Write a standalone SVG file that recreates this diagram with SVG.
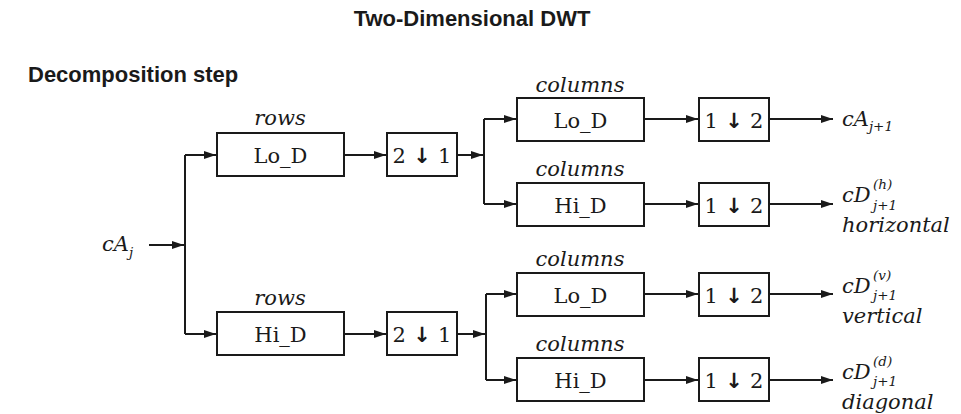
<svg xmlns="http://www.w3.org/2000/svg" width="961" height="414" viewBox="0 0 961 414">
<defs>
<marker id="ah" markerWidth="12" markerHeight="8" refX="12" refY="4" orient="auto" markerUnits="userSpaceOnUse">
<path d="M0,0 L12,4 L0,8 Z" fill="#1a1a1a"/>
</marker>
<style>
.box{fill:#fff;stroke:#1a1a1a;stroke-width:2}
.ln{fill:none;stroke:#1a1a1a;stroke-width:2}
.ar{fill:none;stroke:#1a1a1a;stroke-width:2;marker-end:url(#ah)}
.lbl{font-family:"DejaVu Serif",serif;font-size:21px;fill:#1a1a1a;text-anchor:middle}
.it{font-family:"DejaVu Serif",serif;font-style:italic;font-size:21px;fill:#1a1a1a}
.itc{text-anchor:middle}
.sub{font-size:13.5px}
.hd{font-family:"Liberation Sans",Arial,sans-serif;font-weight:bold;fill:#1a1a1a}
.dn{font-family:"DejaVu Sans",sans-serif;font-weight:bold;font-size:21px}
</style>
</defs>
<rect width="961" height="414" fill="#fff"/>
<text class="hd" x="472" y="26" font-size="22" text-anchor="middle">Two-Dimensional DWT</text>
<text class="hd" x="28" y="82" font-size="22">Decomposition step</text>

<g id="connectors">
<path class="ar" d="M149,245 H184"/>
<path class="ln" d="M185,155 V334"/>
<path class="ar" d="M185,155 H216"/>
<path class="ar" d="M185,334 H216"/>
<path class="ar" d="M344,155 H386"/>
<path class="ar" d="M344,334 H386"/>
<path class="ar" d="M457,155 H483"/>
<path class="ar" d="M457,334 H485"/>
<path class="ln" d="M484,119 V204"/>
<path class="ln" d="M486,294 V380"/>
<path class="ar" d="M484,119 H516"/>
<path class="ar" d="M484,204 H516"/>
<path class="ar" d="M486,294 H516"/>
<path class="ar" d="M486,380 H516"/>
<path class="ar" d="M644,119 H698"/>
<path class="ar" d="M644,204 H698"/>
<path class="ar" d="M644,294 H698"/>
<path class="ar" d="M644,380 H698"/>
<path class="ar" d="M769,119 H833"/>
<path class="ar" d="M769,204 H833"/>
<path class="ar" d="M769,294 H833"/>
<path class="ar" d="M769,380 H833"/>
</g>

<g id="input">
<text class="it" x="102" y="251">cA<tspan class="sub" dy="6">j</tspan></text>
</g>

<g id="rows-lo">
<text class="it itc" x="280" y="125">rows</text>
<rect class="box" x="217" y="133" width="127" height="43"/>
<text class="lbl" x="280.5" y="163">Lo_D</text>
</g>
<g id="rows-hi">
<text class="it itc" x="280" y="305">rows</text>
<rect class="box" x="217" y="312" width="127" height="43"/>
<text class="lbl" x="280.5" y="342">Hi_D</text>
</g>
<g id="ds-rows-1">
<rect class="box" x="387" y="133" width="70" height="43"/>
<text class="lbl" x="422" y="163">2<tspan class="dn"> ↓ </tspan>1</text>
</g>
<g id="ds-rows-2">
<rect class="box" x="387" y="312" width="70" height="43"/>
<text class="lbl" x="422" y="342">2<tspan class="dn"> ↓ </tspan>1</text>
</g>

<g id="cols-lo-1">
<text class="it itc" x="580" y="92">columns</text>
<rect class="box" x="517" y="98" width="127" height="43"/>
<text class="lbl" x="580.5" y="128">Lo_D</text>
</g>
<g id="cols-hi-1">
<text class="it itc" x="580" y="176">columns</text>
<rect class="box" x="517" y="183" width="127" height="43"/>
<text class="lbl" x="580.5" y="213">Hi_D</text>
</g>
<g id="cols-lo-2">
<text class="it itc" x="580" y="266">columns</text>
<rect class="box" x="517" y="273" width="127" height="43"/>
<text class="lbl" x="580.5" y="303">Lo_D</text>
</g>
<g id="cols-hi-2">
<text class="it itc" x="580" y="351">columns</text>
<rect class="box" x="517" y="358" width="127" height="43"/>
<text class="lbl" x="580.5" y="388">Hi_D</text>
</g>

<g id="ds-cols-1">
<rect class="box" x="699" y="98" width="70" height="43"/>
<text class="lbl" x="734" y="128">1<tspan class="dn"> ↓ </tspan>2</text>
</g>
<g id="ds-cols-2">
<rect class="box" x="699" y="183" width="70" height="43"/>
<text class="lbl" x="734" y="213">1<tspan class="dn"> ↓ </tspan>2</text>
</g>
<g id="ds-cols-3">
<rect class="box" x="699" y="273" width="70" height="43"/>
<text class="lbl" x="734" y="303">1<tspan class="dn"> ↓ </tspan>2</text>
</g>
<g id="ds-cols-4">
<rect class="box" x="699" y="358" width="70" height="43"/>
<text class="lbl" x="734" y="388">1<tspan class="dn"> ↓ </tspan>2</text>
</g>

<g id="out-a">
<text class="it" x="842" y="126">cA<tspan class="sub" dy="5">j+1</tspan></text>
</g>
<g id="out-h">
<text class="it" x="842" y="202">cD</text>
<text class="it sub" x="873" y="189">(h)</text>
<text class="it sub" x="873" y="210">j+1</text>
<text class="it" x="842" y="232">horizontal</text>
</g>
<g id="out-v">
<text class="it" x="842" y="293">cD</text>
<text class="it sub" x="873" y="280">(v)</text>
<text class="it sub" x="873" y="300">j+1</text>
<text class="it" x="842" y="323">vertical</text>
</g>
<g id="out-d">
<text class="it" x="842" y="379">cD</text>
<text class="it sub" x="873" y="366">(d)</text>
<text class="it sub" x="873" y="386">j+1</text>
<text class="it" x="842" y="409">diagonal</text>
</g>
</svg>
